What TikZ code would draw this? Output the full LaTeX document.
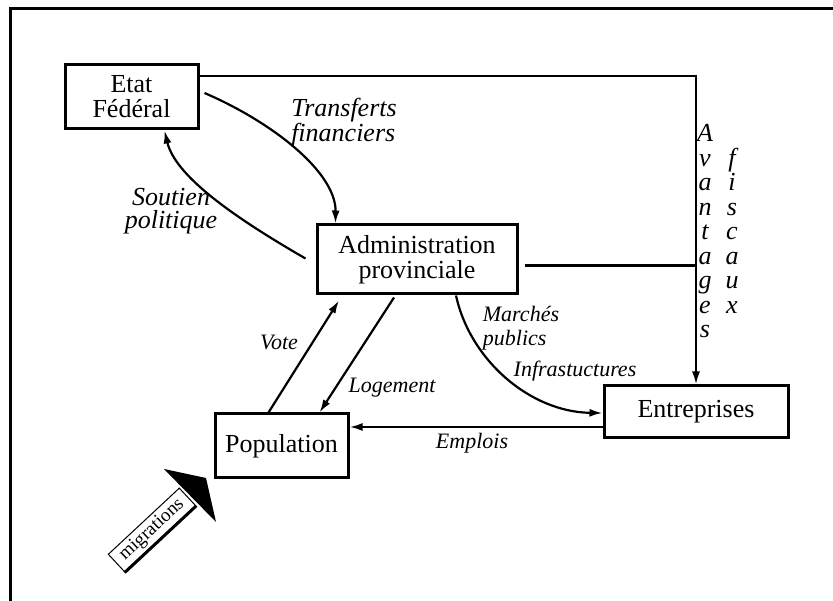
\documentclass[tikz,border=0pt]{standalone}
\usepackage{fontspec}
\setmainfont{Liberation Serif}
\usetikzlibrary{arrows.meta}

\begin{document}
\begin{tikzpicture}[x=1pt,y=-1pt,
  box/.style={draw,line width=3pt,inner sep=0pt,align=center,font=\fontsize{26}{25}\selectfont},
  link/.style={line width=2.2pt},
  arr/.style={link,-{Latex[length=13pt,width=8pt]}},
  lbl/.style={inner sep=0pt,font=\fontsize{22}{24}\selectfont\itshape},
  biglbl/.style={lbl,font=\fontsize{26}{23.5}\selectfont\itshape}]
\useasboundingbox (0,0) rectangle (833,601);
% frame
\draw[line width=3pt] (833,9) -- (10,9) -- (10,601);

\node[box,minimum width=133pt,minimum height=64pt] (etat) at (131.5,97) {Etat\\Fédéral};
\node[box,minimum width=200pt,minimum height=69pt] (admin) at (417,259.5) {Administration\\provinciale};
\node[box,minimum width=133pt,minimum height=64pt] (pop) at (281.5,446) {Population};
\node[box,minimum width=184pt,minimum height=52pt] (entr) at (696,412) {Entreprises};

% avantages fiscaux
\draw[arr] ([yshift=21pt]etat.east) -| (entr.north);
\coordinate (adm-r) at ([xshift=6pt,yshift=-6pt]admin.east);
\draw[link] (adm-r) -- (adm-r -| entr.north);

\draw[arr] ([xshift=5pt,yshift=4pt]etat.east) .. controls (272,122) and (336,172) .. ([xshift=20pt]admin.north west);
\draw[arr] ([xshift=-10pt,yshift=1pt]admin.west) .. controls (230,215) and (175,175) .. ([xshift=33pt]etat.south);
\draw[arr] ([xshift=-13pt]pop.north) -- ([xshift=-78pt,yshift=-5pt]admin.south);
\draw[arr] ([xshift=-23pt,yshift=-2pt]admin.south) -- ([xshift=38pt]pop.north);
\draw[arr] ([yshift=-15pt]entr.west) -- ([yshift=-15pt]entr.west -| pop.east);
\draw[arr] ([xshift=39pt]admin.south) .. controls (470,360) and (530,412) .. ([yshift=-1pt]entr.west);

\node[biglbl,align=left] (transf) at (344,123) {Transferts\\financiers};
\node[biglbl,align=center] (soutien) at (171,211) {Soutien\\politique};
\node[lbl] (vote) at (279,342) {Vote};
\node[lbl] (logmt) at (392,388) {Logement};
\node[lbl] (emplois) at (472,443) {Emplois};
\node[lbl,align=left] (marches) at (521,328) {Marchés\\publics};
\node[lbl] (infra) at (575,371) {Infrastuctures};

\foreach \c [count=\k from 0] in {A,v,a,n,t,a,g,e,s}
  \node[biglbl,anchor=base] (av\k) at (705,142+24.5*\k) {\c};
\foreach \c [count=\k from 1] in {f,i,s,c,a,u,x}
  \node[biglbl,anchor=base] (fi\k) at (732,142+24.5*\k) {\c};

% migrations
\node[draw,fill=white,line width=1pt,rotate=43,minimum width=97pt,minimum height=24pt,inner sep=0pt,font=\fontsize{19}{19}\selectfont] (migr) at (152,530) {migrations};
\draw[line width=3pt] (migr.south west) -- (migr.south east);
\fill (164,469) -- (206,478) -- (216,522) -- cycle;
\end{tikzpicture}
\end{document}
